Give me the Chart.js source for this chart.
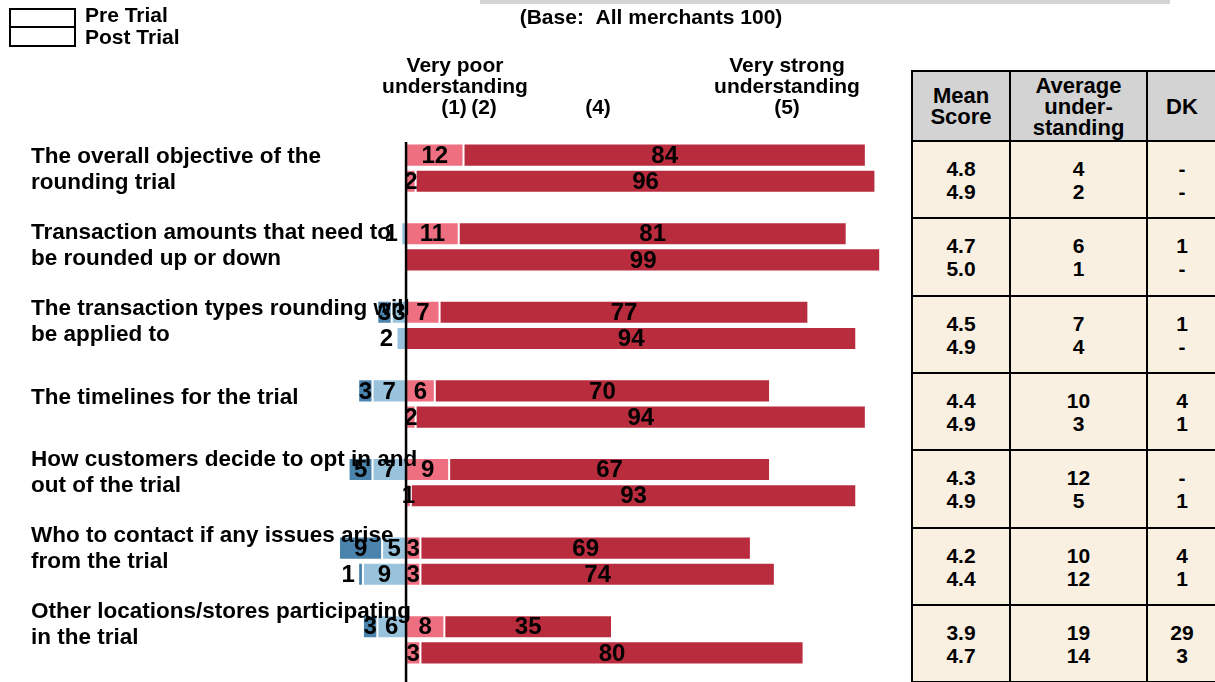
<!DOCTYPE html>
<html>
<head>
<meta charset="utf-8">
<script src="https://cdn.jsdelivr.net/npm/chart.js@4/dist/chart.umd.min.js"></script>
<style>
  html, body { margin:0; padding:0; background:#fff; overflow:hidden; }
  #wrap { position:relative; width:1215px; height:682px; overflow:hidden; font-family:"Liberation Sans", Arial, sans-serif; }
  #c { position:absolute; left:0; top:0; }
  .cell { position:absolute; box-sizing:border-box; display:flex; align-items:center; justify-content:center; text-align:center; font-weight:bold; color:#000; }
</style>
</head>
<body>
<div id="wrap">
  <canvas id="c" width="1215" height="682"></canvas>
</div>
<script>
// ---------- DATA ----------
const categories = [
  ["The overall objective of the", "rounding trial"],
  ["Transaction amounts that need to", "be rounded up or down"],
  ["The transaction types rounding will", "be applied to"],
  ["The timelines for the trial"],
  ["How customers decide to opt in and", "out of the trial"],
  ["Who to contact if any issues arise", "from the trial"],
  ["Other locations/stores participating", "in the trial"]
];
const seriesNames = ["Pre Trial", "Post Trial"];
// (1) Very poor, (2), (4), (5) Very strong  -- Pre / Post
const pre1  = [0, 0, 3, 3, 5, 9, 3];
const pre2  = [0, 1, 3, 7, 7, 5, 6];
const pre4  = [12, 11, 7, 6, 9, 3, 8];
const pre5  = [84, 81, 77, 70, 67, 69, 35];
const post1 = [0, 0, 0, 0, 0, 1, 0];
const post2 = [0, 0, 2, 0, 0, 9, 0];
const post4 = [2, 0, 0, 2, 1, 3, 3];
const post5 = [96, 99, 94, 94, 93, 74, 80];
// Table
const meanPre  = ["4.8", "4.7", "4.5", "4.4", "4.3", "4.2", "3.9"];
const meanPost = ["4.9", "5.0", "4.9", "4.9", "4.9", "4.4", "4.7"];
const avgPre   = ["4", "6", "7", "10", "12", "10", "19"];
const avgPost  = ["2", "1", "4", "3", "5", "12", "14"];
const dkPre    = ["-", "1", "1", "4", "-", "4", "29"];
const dkPost   = ["-", "-", "-", "1", "1", "1", "3"];
const tableHeaders = [["Mean", "Score"], ["Average", "under-", "standing"], ["DK"]];
const scaleHeaders = [
  { lines: ["Very poor", "understanding"], x: 455 },
  { lines: ["Very strong", "understanding"], x: 787 }
];
const scaleCodes = [{ t: "(1)", x: 454 }, { t: "(2)", x: 484 }, { t: "(4)", x: 598 }, { t: "(5)", x: 787 }];
const baseText = "(Base:  All merchants 100)";

// ---------- BUILD ----------
const nz = v => (v === 0 ? null : v);
const slotLabels = [];
const d1 = [], d2 = [], d4 = [], d5 = [];
categories.forEach((c, i) => {
  slotLabels.push(c.join(" ") + " - Pre");
  d1.push(nz(-pre1[i])); d2.push(nz(-pre2[i])); d4.push(nz(pre4[i])); d5.push(nz(pre5[i]));
  slotLabels.push(c.join(" ") + " - Post");
  d1.push(nz(-post1[i])); d2.push(nz(-post2[i])); d4.push(nz(post4[i])); d5.push(nz(post5[i]));
  if (i < categories.length - 1) {
    slotLabels.push("");
    d1.push(null); d2.push(null); d4.push(null); d5.push(null);
  }
});

const FONT = '"Liberation Sans", Arial, sans-serif';
const COLORS = { c1: "#4a84ad", c2: "#99c2dc", c4: "#ee6f80", c5: "#b92c3e" };

const decorPlugin = {
  id: "decor",
  afterDatasetsDraw(chart) {
    const ctx = chart.ctx;
    const xs = chart.scales.x;
    ctx.save();
    // value labels
    ctx.fillStyle = "#000";
    ctx.font = "bold 24px " + FONT;
    ctx.textBaseline = "middle";
    ctx.textAlign = "center";
    chart.data.datasets.forEach((ds, di) => {
      const meta = chart.getDatasetMeta(di);
      meta.data.forEach((el, j) => {
        const v = ds.data[j];
        if (v === null || v === undefined) return;
        const w = Math.abs(el.x - el.base);
        let cx = (el.x + el.base) / 2;
        if (v < 0 && w < 11) cx = Math.min(el.x, el.base) - 10;
        ctx.fillText(String(Math.abs(v)), cx, el.y + 1);
      });
    });
    // zero line
    const x0 = xs.getPixelForValue(0);
    ctx.strokeStyle = "#000";
    ctx.lineWidth = 2.5;
    ctx.beginPath();
    ctx.moveTo(x0, chart.chartArea.top);
    ctx.lineTo(x0, 682);
    ctx.stroke();
    // category labels
    ctx.textAlign = "left";
    ctx.font = "bold 22.5px " + FONT;
    categories.forEach((lines, i) => {
      const cy = 170 + i * 75.8;
      const lh = 26;
      const y0 = cy - (lines.length - 1) * lh / 2;
      lines.forEach((t, k) => ctx.fillText(t, 31, y0 + k * lh));
    });
    // scale headers
    ctx.textAlign = "center";
    ctx.font = "bold 21px " + FONT;
    scaleHeaders.forEach(h => {
      h.lines.forEach((t, k) => ctx.fillText(t, h.x, 66 + k * 21));
    });
    scaleCodes.forEach(s => ctx.fillText(s.t, s.x, 108));
    // base text
    ctx.font = "bold 21px " + FONT;
    ctx.fillText(baseText, 651, 18);
    // top grey line
    ctx.fillStyle = "#d4d4d4";
    ctx.fillRect(480, 0, 690, 4);
    // legend
    ctx.strokeStyle = "#000";
    ctx.lineWidth = 2;
    ctx.strokeRect(10, 9, 65, 18);
    ctx.strokeRect(10, 27, 65, 19);
    ctx.fillStyle = "#000";
    ctx.textAlign = "left";
    ctx.font = "bold 21px " + FONT;
    ctx.fillText(seriesNames[0], 85, 16);
    ctx.fillText(seriesNames[1], 85, 38);
    ctx.restore();
  }
};

new Chart(document.getElementById("c"), {
  type: "bar",
  data: {
    labels: slotLabels,
    datasets: [
      { label: "(2)", data: d2, backgroundColor: COLORS.c2 },
      { label: "(1) Very poor understanding", data: d1, backgroundColor: COLORS.c1 },
      { label: "(4)", data: d4, backgroundColor: COLORS.c4 },
      { label: "(5) Very strong understanding", data: d5, backgroundColor: COLORS.c5 }
    ].map(d => Object.assign(d, { borderColor: "#ffffff", borderWidth: 1, borderSkipped: false, categoryPercentage: 1, barPercentage: 0.88 }))
  },
  options: {
    indexAxis: "y",
    responsive: false,
    animation: false,
    devicePixelRatio: 1,
    layout: { padding: { left: 339, right: 330, top: 142, bottom: 16 } },
    plugins: { legend: { display: false }, tooltip: { enabled: false } },
    scales: {
      x: { stacked: true, min: -14, max: 100, display: false },
      y: { stacked: true, display: false }
    }
  },
  plugins: [decorPlugin]
});

// ---------- TABLE ----------
const wrap = document.getElementById("wrap");
const colX = [912, 1010, 1147, 1217];
const top0 = 71, headH = 70, rowH = 77.3;
function addCell(x, y, w, h, bg, lines, fs, lh) {
  const d = document.createElement("div");
  d.className = "cell";
  Object.assign(d.style, {
    left: x + "px", top: y + "px", width: w + "px", height: h + "px",
    background: bg, border: "2px solid #000", fontSize: fs + "px", lineHeight: lh + "px"
  });
  d.innerHTML = lines.join("<br>");
  wrap.appendChild(d);
}
tableHeaders.forEach((h, c) => addCell(colX[c] - 1, top0 - 1, colX[c + 1] - colX[c] + 2, headH + 2, "#d3d3d3", h, 22, 21));
const cols = [[meanPre, meanPost], [avgPre, avgPost], [dkPre, dkPost]];
categories.forEach((_, i) => {
  const y = Math.round(top0 + headH + i * rowH);
  const yn = Math.round(top0 + headH + (i + 1) * rowH);
  cols.forEach((pair, c) => {
    addCell(colX[c] - 1, y - 1, colX[c + 1] - colX[c] + 2, yn - y + 2, "#faf0e2", [pair[0][i], pair[1][i]], 21, 23);
  });
});
</script>
</body>
</html>
